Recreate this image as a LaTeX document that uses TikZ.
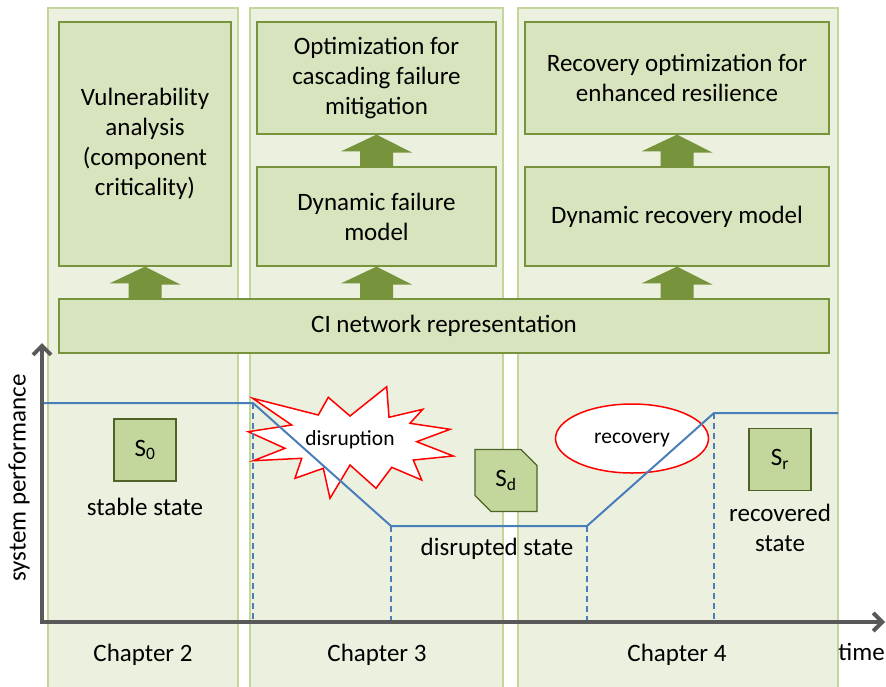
\documentclass[tikz,border=0pt]{standalone}
\usepackage{fontspec}
\setmainfont{Carlito}
\usepackage{xcolor}
\usepackage{tikz}
\usetikzlibrary{arrows.meta, calc, shapes.geometric, shapes.misc}

\definecolor{panelfill}{HTML}{EBF1DE}
\definecolor{panelline}{HTML}{C3D69B}
\definecolor{boxfill}{HTML}{D7E4BD}
\definecolor{boxline}{HTML}{77933C}
\definecolor{arrowgreen}{HTML}{77933C}
\definecolor{statefill}{HTML}{C3D69B}
\definecolor{stateline}{HTML}{4F6228}
\definecolor{axisgray}{HTML}{595959}
\definecolor{perfblue}{HTML}{4A7EBB}

\tikzset{
    panel/.style={fill=panelfill, draw=panelline, line width=1.5pt},
    topbox/.style={fill=boxfill, draw=boxline, line width=1.2pt, inner sep=0pt, align=center},
    statebox/.style={fill=statefill, draw=stateline, line width=1.2pt, minimum width=62pt, minimum height=62pt, inner sep=0pt},
    burst/.style={fill=white, draw=red, line width=1.5pt, line join=miter},
    perf/.style={draw=perfblue, line width=2pt},
    drop/.style={draw=perfblue, line width=1.2pt, dash pattern=on 6pt off 4pt},
    axis/.style={draw=axisgray, line width=4pt, {Straight Barb[length=9pt,width=18pt]}-{Straight Barb[length=9pt,width=18pt]}},
    smalltxt/.style={font=\fontsize{21.5}{26}\selectfont}
}

\newcommand{\blockarrow}[2]{%
    \fill[arrowgreen] (#2.south |- #1.north) ++(-16.5,0) -- ++(0,-15) -- ++(-19,0) -- (#2.south) -- ++(35.5,18) -- ++(-19,0) -- ++(0,15) -- cycle;%
}

\begin{document}
\begin{tikzpicture}[x=1pt, y=-1pt, font=\fontsize{25}{30}\selectfont]
        \useasboundingbox (0,0) rectangle (886,686);

        \foreach \l/\r in {48/238, 250/503, 518/838}{
            \draw[panel] (\l,8) rectangle (\r,692);
        }

        \node[topbox, minimum width=172pt, minimum height=244pt] (vuln) at (145,144) {Vulnerability\\analysis\\(component\\criticality)};
        \node[topbox, minimum width=239pt, minimum height=112pt] (optim) at (376.5,78) {Optimization for\\cascading failure\\mitigation};
        \node[topbox, minimum width=239pt, minimum height=99pt] (dynfail) at (376.5,216.5) {Dynamic failure\\model};
        \node[topbox, minimum width=304pt, minimum height=112pt] (recopt) at (677,78) {Recovery optimization for\\enhanced resilience};
        \node[topbox, minimum width=304pt, minimum height=99pt] (dynrec) at (677,216.5) {Dynamic recovery model};
        \node[topbox, minimum width=770pt, minimum height=54pt] (ci) at (444,326) {CI network representation};

        \blockarrow{ci}{vuln}
        \blockarrow{ci}{dynfail}
        \blockarrow{dynfail}{optim}
        \blockarrow{ci}{dynrec}
        \blockarrow{dynrec}{recopt}

        \draw[burst] (252.7,398.3) -- (318.3,415) -- (328.3,397.3) -- (350,416) -- (386.7,386.7) -- (389,417.3)
            -- (422.7,409.3) -- (410,423.3) -- (450,429.3) -- (416.7,441.7) -- (453.3,456) -- (413.3,460)
            -- (421.7,480) -- (391.7,467.3) -- (376,488.3) -- (350,465) -- (330,498.3) -- (323.3,468.3)
            -- (295,478.3) -- (301.7,458.3) -- (253.3,460.7) -- (285,448.3) -- (248.3,431.7) -- (291.7,425) -- cycle;
        \node[smalltxt] (disr) at (350,440) {disruption};
        \node[ellipse, fill=white, draw=red, line width=1.5pt, minimum width=153pt, minimum height=69pt, inner sep=0pt] (recov) at (632,438.5) {};
        \node[smalltxt] (recovtxt) at (632,440) {recovery};

        \coordinate (o) at (42,622);
        \coordinate (ytop) at (42,343);
        \coordinate (xend) at (885,622);
        \coordinate (p0) at (42,403);
        \coordinate (p1) at (253,403);
        \coordinate (p2) at (391,526);
        \coordinate (p3) at (587,526);
        \coordinate (p4) at (714,413);
        \coordinate (p5) at (838,413);

        \draw[perf] (p0) -- (p1) -- (p2) -- (p3) -- (p4) -- (p5);
        \foreach \p in {p1, p2, p3, p4}{
            \draw[drop] (\p) -- (\p |- o);
        }
        \draw[axis] (ytop) -- (o) -- (xend);

        \node[statebox] (s0) at (145,450) {S\textsubscript{0}};
        \node (stable) at (145,507) {stable state};
        \node[statebox, chamfered rectangle, chamfered rectangle corners={north east, south west}, chamfered rectangle xsep=8pt, chamfered rectangle ysep=8pt] (sd) at (506,480.5) {S\textsubscript{d}};
        \node (disrupted) at (497,549) {disrupted state};
        \node[statebox] (sr) at (780,459.5) {S\textsubscript{r}};
        \node[align=center] (recovered) at (780,528) {recovered\\state};

        \node[rotate=90] (ylabel) at (19,478) {system performance};
        \node[anchor=east, inner sep=1pt] (xlabel) at (886,652) {time};
        \foreach \x/\n in {143/2, 377/3, 677/4}{
            \node (ch\n) at (\x,655) {Chapter \n};
        }
    \end{tikzpicture}
\end{document}
